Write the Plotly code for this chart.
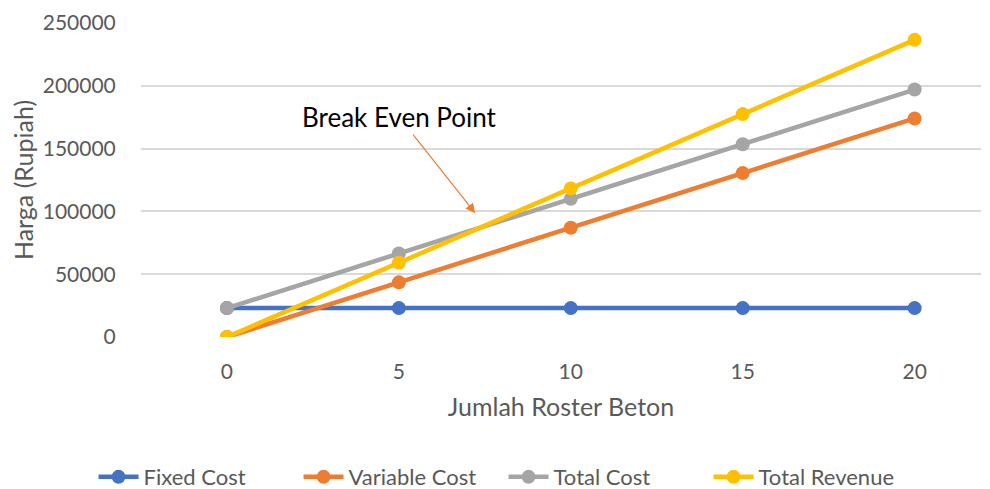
import plotly.graph_objects as go

jumlah = [0, 5, 10, 15, 20]
fixed_cost = [23000, 23000, 23000, 23000, 23000]
variable_cost = [0, 43500, 87000, 130500, 174000]
total_cost = [23000, 66500, 110000, 153500, 197000]
total_revenue = [0, 59150, 118300, 177450, 236600]

series = [
    ("Fixed Cost", fixed_cost, "#4472C4"),
    ("Variable Cost", variable_cost, "#ED7D31"),
    ("Total Cost", total_cost, "#A5A5A5"),
    ("Total Revenue", total_revenue, "#FFC000"),
]

FONT = "Lato"
GREY = "#595959"

fig = go.Figure()
for name, values, color in series:
    fig.add_trace(
        go.Scatter(
            x=jumlah,
            y=values,
            name=name,
            mode="lines+markers",
            line=dict(color=color, width=4.5),
            marker=dict(color=color, size=14),
        )
    )

fig.add_annotation(
    x=7.22,
    y=98600,
    ax=-76,
    ay=-96,
    text="Break Even Point",
    font=dict(family=FONT, size=26, color="#000000"),
    showarrow=True,
    arrowhead=2,
    arrowsize=1.6,
    arrowwidth=1.2,
    arrowcolor="#ED7D31",
    standoff=0,
)

# the page body adds an 8px offset, so the figure is 8px smaller each way
fig.update_layout(
    width=982,
    height=481,
    margin=dict(l=133, r=9, t=15, b=152, autoexpand=False),
    plot_bgcolor="white",
    paper_bgcolor="white",
    font=dict(family=FONT, size=21, color=GREY),
    showlegend=True,
    legend=dict(
        orientation="h",
        x=0.4316,
        xanchor="center",
        y=-0.446,
        yanchor="middle",
        font=dict(size=22, color=GREY),
        itemwidth=40,
        entrywidth=150,
        entrywidthmode="pixels",
        tracegroupgap=0,
    ),
    xaxis=dict(
        range=[-2.5, 21.93],
        tickvals=jumlah,
        showgrid=False,
        zeroline=False,
        showline=False,
        ticks="outside",
        ticklen=16,
        tickcolor="rgba(0,0,0,0)",
        title=dict(text="Jumlah Roster Beton", standoff=16),
    ),
    yaxis=dict(
        range=[0, 250000],
        dtick=50000,
        tickformat="d",
        showgrid=True,
        gridcolor="#D9D9D9",
        gridwidth=1.5,
        zeroline=False,
        showline=False,
        ticks="outside",
        ticklen=20,
        tickcolor="rgba(0,0,0,0)",
        title=dict(text="Harga (Rupiah)", standoff=10),
    ),
)

fig.write_html("out.html")
